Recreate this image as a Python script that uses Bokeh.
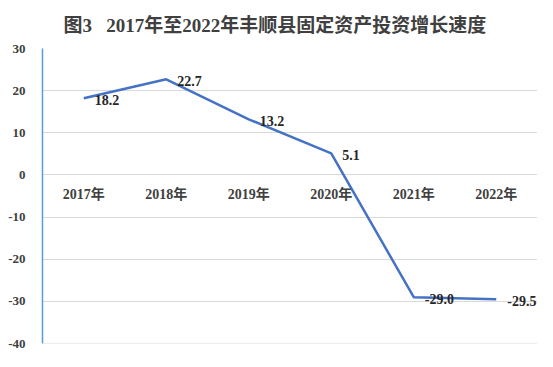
from bokeh.plotting import figure
from bokeh.models import (ColumnDataSource, FactorRange, Range1d, SingleIntervalTicker,
                          CustomJSTickFormatter, Span)
from bokeh.core.properties import value
from bokeh.embed import file_html
from bokeh.resources import INLINE

title_text = "图3\u00a0\u00a0\u00a02017年至2022年丰顺县固定资产投资增长速度"
categories = ["2017年", "2018年", "2019年", "2020年", "2021年", "2022年"]
growth = [18.2, 22.7, 13.2, 5.1, -29.0, -29.5]
y_min, y_max, y_step = -40, 30, 10

FONT = "Liberation Serif, Noto Sans CJK SC"

src = ColumnDataSource(dict(
    cat=categories,
    v=growth,
    lbl=[f"{v:.1f}" for v in growth],
    base=[0] * len(categories),
))

p = figure(
    width=537, height=351,
    x_range=FactorRange(*categories, range_padding=0),
    y_range=Range1d(y_min, y_max),
    output_backend="svg", toolbar_location=None,
    min_border_left=42, min_border_right=0, min_border_top=46, min_border_bottom=8,
)

p.title.text = title_text
p.title.text_font = FONT
p.title.text_font_size = "19px"
p.title.text_font_style = "bold"
p.title.text_color = "#404040"
p.title.align = "left"
p.title.offset = 21
p.title.standoff = 25

p.outline_line_color = None
p.xgrid.grid_line_color = None
p.ygrid.grid_line_color = "#d9d9d9"
p.ygrid.grid_line_width = 1
p.xaxis.visible = False
p.add_layout(Span(location=y_min, dimension="width", line_color="#d9d9d9", line_width=1))

p.yaxis.ticker = SingleIntervalTicker(interval=y_step)
p.yaxis.formatter = CustomJSTickFormatter(code="return String(tick);")
p.yaxis.axis_line_color = "#5B9BD5"
p.yaxis.axis_line_width = 1.5
p.yaxis.major_tick_line_color = None
p.yaxis.minor_tick_line_color = None
p.yaxis.major_label_standoff = 11
p.yaxis.major_label_text_font = FONT
p.yaxis.major_label_text_font_style = "bold"
p.yaxis.major_label_text_font_size = "13px"
p.yaxis.major_label_text_color = "#404040"

p.line("cat", "v", source=src, line_color="#4472C4", line_width=2.5)

p.text("cat", "v", text="lbl", source=src, x_offset=11, y_offset=2,
       text_align="left", text_baseline="middle",
       text_font=value(FONT), text_font_style="bold", text_font_size="14px",
       text_color="#262626")

p.text("cat", "base", text="cat", source=src, y_offset=20,
       text_align="center", text_baseline="middle",
       text_font=value(FONT), text_font_style="bold", text_font_size="14px",
       text_color="#404040")

open("out.html", "w").write(file_html(p, INLINE))
